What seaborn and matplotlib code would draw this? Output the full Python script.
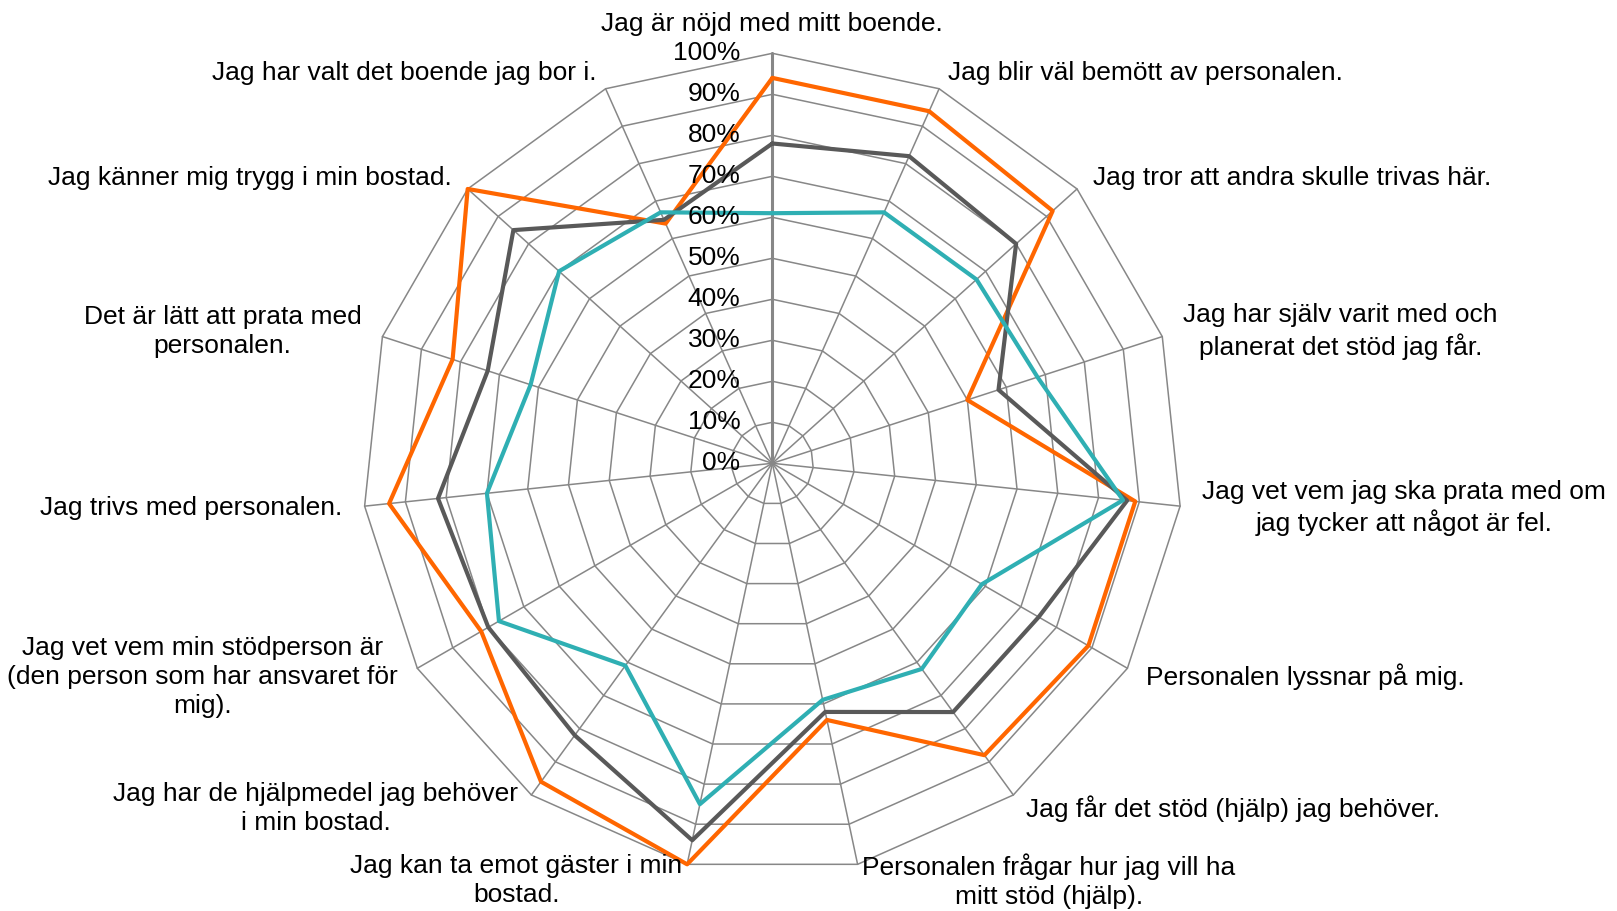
#Importerar bibliotek
import numpy as np
import pandas as pd
import matplotlib
matplotlib.use('Agg')
import matplotlib.pyplot as plt
import seaborn as sns

#Frågorna (medurs från toppen)
questions = [
    "Jag är nöjd med mitt boende.",
    "Jag blir väl bemött av personalen.",
    "Jag tror att andra skulle trivas här.",
    "Jag har själv varit med och\nplanerat det stöd jag får.",
    "Jag vet vem jag ska prata med om\njag tycker att något är fel.",
    "Personalen lyssnar på mig.",
    "Jag får det stöd (hjälp) jag behöver.",
    "Personalen frågar hur jag vill ha\nmitt stöd (hjälp).",
    "Jag kan ta emot gäster i min\nbostad.",
    "Jag har de hjälpmedel jag behöver\ni min bostad.",
    "Jag vet vem min stödperson är\n(den person som har ansvaret för\nmig).",
    "Jag trivs med personalen.",
    "Det är lätt att prata med\npersonalen.",
    "Jag känner mig trygg i min bostad.",
    "Jag har valt det boende jag bor i.",
]

#Andel som svarat positivt, procent
serie_orange = [94, 94, 92, 50, 89, 89, 88, 64, 100, 96, 82, 94, 82, 100, 64]
serie_gra = [78, 82, 80, 58, 87, 75, 75, 62, 94, 82, 80, 82, 73, 85, 65]
serie_turkos = [61, 67, 67, 68, 86, 59, 62, 59, 85, 61, 77, 70, 62, 70, 67]

series_names = ['Serie 1', 'Serie 2', 'Serie 3']
colors = ['#FF6600', '#595959', '#2FAFB3']

levels = list(range(0, 101, 10))
tick_labels = [f"{v}%" for v in levels]

#Vinklar för varje fråga
n = len(questions)
angles = np.linspace(0, 2 * np.pi, n, endpoint=False)
angles_closed = np.append(angles, 2 * np.pi)

#Bygger en lång tabell för seaborn (sluter polygonen)
rows = []
for name, vals in zip(series_names, [serie_orange, serie_gra, serie_turkos]):
    for a, v in zip(angles_closed, vals + [vals[0]]):
        rows.append({'serie': name, 'vinkel': a, 'andel': v})
df = pd.DataFrame(rows)

sns.set_theme(style='white')
plt.rcParams['font.family'] = ['Liberation Sans', 'DejaVu Sans']

fig = plt.figure(figsize=(16.17, 9.11), dpi=100)
ax = fig.add_axes([0.2241, 0.0414, 0.5071, 0.9001], projection='polar')
ax.set_theta_zero_location('N')
ax.set_theta_direction(-1)
ax.set_ylim(0, 100)
ax.grid(False)
ax.spines['polar'].set_visible(False)
ax.set_xticks([])
ax.set_yticks([])

grid_color = '#878787'
#Ringar som polygoner
for lev in levels[1:]:
    ax.plot(angles_closed, [lev] * (n + 1), color=grid_color, lw=1.1, zorder=1, clip_on=False)
#Ekrar
for i, a in enumerate(angles):
    ax.plot([a, a], [0, 100], color=grid_color, lw=2.2 if i == 0 else 1.1, zorder=1, clip_on=False)

#Serierna
sns.lineplot(data=df, x='vinkel', y='andel', hue='serie', palette=colors,
             sort=False, estimator=None, lw=3, legend=False, ax=ax, zorder=3)
for line in ax.get_lines():
    line.set_clip_on(False)
ax.set_xlabel('')
ax.set_ylabel('')

#Procentetiketter längs den lodräta axeln
for lev, lab in zip(levels, tick_labels):
    ax.annotate(lab, xy=(0, lev), xytext=(-32, 0), textcoords='offset pixels',
                ha='right', va='center', fontsize=19, color='black')

#Frågetexter runt diagrammet
for a, q in zip(angles, questions):
    s, c = np.sin(a), np.cos(a)
    if s > 0.05:
        ha = 'left'
    elif s < -0.05:
        ha = 'right'
    else:
        ha = 'center'
    va = 'bottom' if c > 0.99 else 'center'
    ax.annotate(q, xy=(a, 100), xytext=(22 * s, 17 * c), textcoords='offset pixels',
                ha=ha, va=va, multialignment='center', fontsize=19,
                linespacing=1.26, color='black', annotation_clip=False)

fig.savefig('out.png', dpi=100)
